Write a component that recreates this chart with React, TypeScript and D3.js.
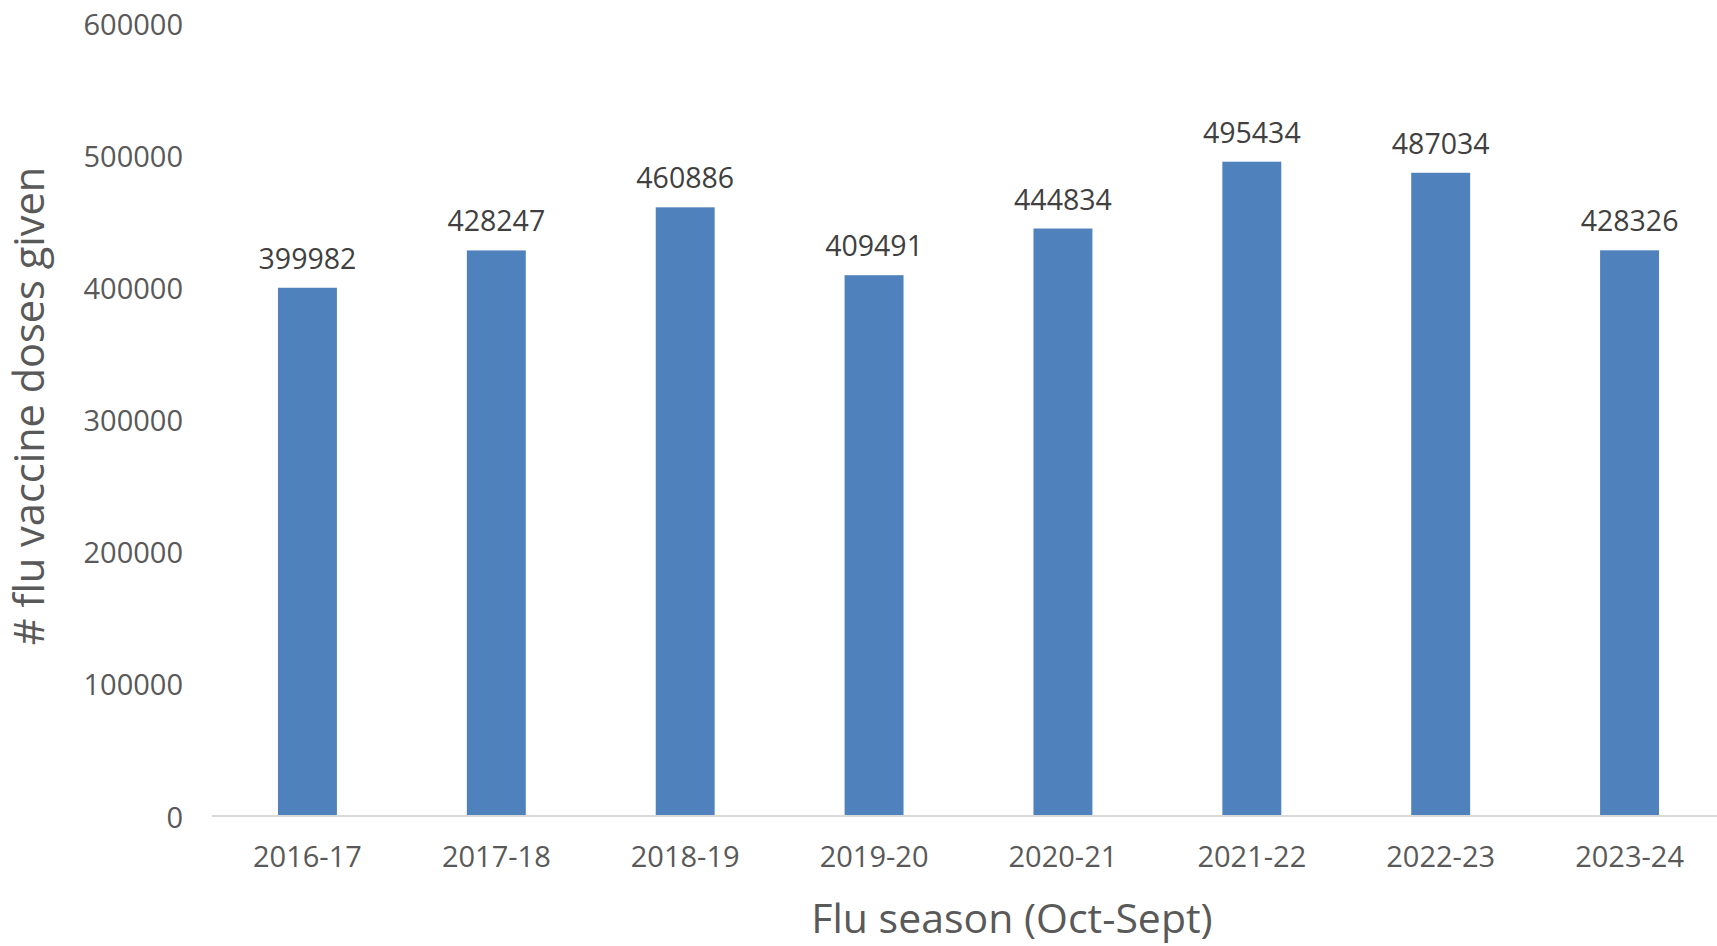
import * as d3 from "d3";

const seasons = ["2016-17", "2017-18", "2018-19", "2019-20", "2020-21", "2021-22", "2022-23", "2023-24"];
const doses = [399982, 428247, 460886, 409491, 444834, 495434, 487034, 428326];
const yTicks = [0, 100000, 200000, 300000, 400000, 500000, 600000];

const W = 1717;
const H = 946;
const FONT = "'Open Sans', 'Noto Sans', sans-serif";

export default function App() {
  const x = d3
    .scaleBand<string>()
    .domain(seasons)
    .range([213, 1724])
    .paddingInner(0.688)
    .paddingOuter(0.344);

  const y = d3.scaleLinear().domain([0, 600000]).range([816, 23.6]);

  return (
    <svg
      width={W}
      height={H}
      style={{ position: "absolute", left: 0, top: 0, display: "block", background: "#fff" }}
      fontFamily={FONT}
    >
      {/* y tick labels, no gridlines */}
      {yTicks.map((t) => (
        <text
          key={t}
          x={183}
          y={y(t)}
          textAnchor="end"
          dominantBaseline="central"
          fontSize={29}
          fill="#595959"
        >
          {t}
        </text>
      ))}

      {/* bars */}
      {seasons.map((s, i) => (
        <rect
          key={s}
          x={x(s)}
          y={y(doses[i])}
          width={x.bandwidth()}
          height={y(0) - y(doses[i])}
          fill="#4f81bd"
        />
      ))}

      {/* value labels */}
      {seasons.map((s, i) => (
        <text
          key={s}
          x={(x(s) ?? 0) + x.bandwidth() / 2}
          y={y(doses[i]) - 19}
          textAnchor="middle"
          fontSize={28.5}
          fill="#404040"
        >
          {doses[i]}
        </text>
      ))}

      {/* x axis line */}
      <line x1={212} x2={W} y1={y(0)} y2={y(0)} stroke="#d9d9d9" strokeWidth={2} />

      {/* category labels */}
      {seasons.map((s) => (
        <text
          key={s}
          x={(x(s) ?? 0) + x.bandwidth() / 2}
          y={867}
          textAnchor="middle"
          fontSize={29}
          fill="#595959"
        >
          {s}
        </text>
      ))}

      {/* axis titles */}
      <text x={1012} y={933} textAnchor="middle" fontSize={41} fill="#595959">
        Flu season (Oct-Sept)
      </text>
      <text
        transform="translate(44,406) rotate(-90)"
        textAnchor="middle"
        fontSize={41.5}
        fill="#595959"
      >
        # flu vaccine doses given
      </text>
    </svg>
  );
}
